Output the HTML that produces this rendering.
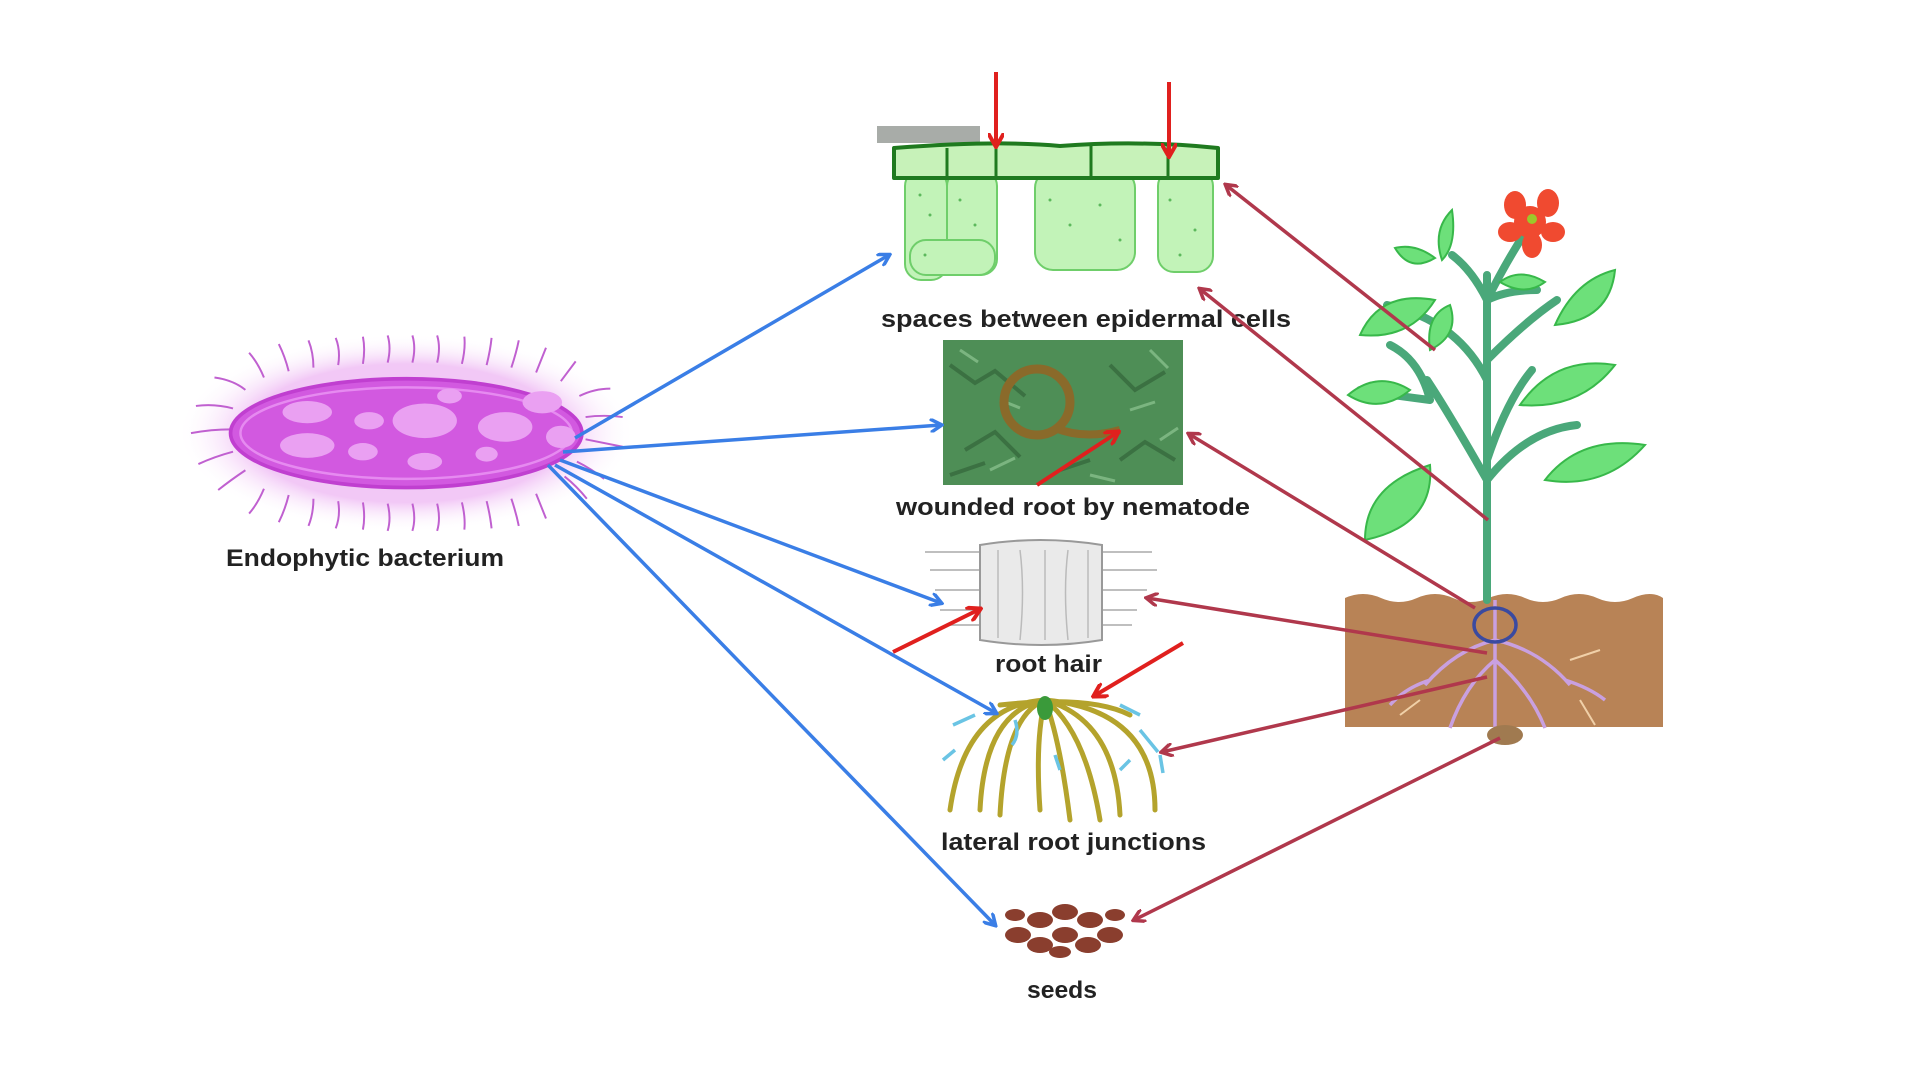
<!DOCTYPE html>
<html><head><meta charset="utf-8"><style>
html,body{margin:0;padding:0;background:#fff;}
svg{display:block}
text{font-family:"Liberation Sans",sans-serif;font-weight:bold;fill:#222}
</style></head><body>
<svg width="1920" height="1079" viewBox="0 0 1920 1079" xmlns="http://www.w3.org/2000/svg">
<defs>
<marker id="ab" markerWidth="14" markerHeight="14" refX="11" refY="7" orient="auto" markerUnits="userSpaceOnUse"><path d="M0,0 L12,7 L0,14" fill="none" stroke="#3a7ee6" stroke-width="3.5"/></marker>
<marker id="am" markerWidth="14" markerHeight="14" refX="11" refY="7" orient="auto" markerUnits="userSpaceOnUse"><path d="M0,0 L12,7 L0,14" fill="none" stroke="#b0384c" stroke-width="3.5"/></marker>
<marker id="ar" markerWidth="16" markerHeight="16" refX="13" refY="8" orient="auto" markerUnits="userSpaceOnUse"><path d="M0,0 L14,8 L0,16" fill="none" stroke="#e0201e" stroke-width="4"/></marker>
<radialGradient id="glow"><stop offset="0.7" stop-color="#f2c8f6"/><stop offset="1" stop-color="#fff" stop-opacity="0"/></radialGradient>
</defs>
<!-- bacterium -->
<g transform="translate(-2,-6) scale(1.237)">
<ellipse cx="330" cy="355" rx="185" ry="80" fill="url(#glow)"/>
<g stroke="#c060d0" stroke-width="1.6" fill="none">
<path d="M200 320 q-10-8 -25-10 M190 335 q-15-4 -30-2 M188 352 q-15 0 -32 3 M190 370 q-15 4 -28 10 M200 385 q-12 8 -22 16 M470 325 q12-6 25-6 M475 342 q15-2 30 0 M475 360 q15 3 30 6 M468 378 q12 6 22 14 M458 390 q10 8 18 18"/>
<path d="M215 310 q-5-12 -12-20 M235 305 q-3-12 -8-22 M255 302 q0-12 -4-22 M275 300 q2-12 -2-22 M295 299 q2-12 0-22 M315 298 q3-12 0-22 M335 298 q3-12 0-22 M355 298 q3-12 0-22 M375 299 q3-12 2-22 M395 300 q3-12 4-22 M415 302 q4-12 6-22 M435 306 q4-10 8-20 M455 313 q6-8 12-16"/>
<path d="M215 400 q-5 12 -12 20 M235 405 q-3 12 -8 22 M255 408 q0 12 -4 22 M275 410 q2 12 -2 22 M295 411 q2 12 0 22 M315 412 q3 12 0 22 M335 412 q3 12 0 22 M355 412 q3 12 0 22 M375 411 q3 12 2 22 M395 410 q3 12 4 22 M415 408 q4 12 6 22 M435 404 q4 10 8 20"/>
</g>
<ellipse cx="330" cy="355" rx="142" ry="44" fill="#d259e0" stroke="#c03fd0" stroke-width="3"/>
<ellipse cx="330" cy="355" rx="134" ry="37" fill="none" stroke="#e68af0" stroke-width="2"/>
<g fill="#eaa0f2">
<ellipse cx="250" cy="338" rx="20" ry="9"/><ellipse cx="300" cy="345" rx="12" ry="7"/><ellipse cx="345" cy="345" rx="26" ry="14"/><ellipse cx="410" cy="350" rx="22" ry="12"/><ellipse cx="440" cy="330" rx="16" ry="9"/><ellipse cx="250" cy="365" rx="22" ry="10"/><ellipse cx="295" cy="370" rx="12" ry="7"/><ellipse cx="345" cy="378" rx="14" ry="7"/><ellipse cx="395" cy="372" rx="9" ry="6"/><ellipse cx="455" cy="358" rx="12" ry="9"/><ellipse cx="365" cy="325" rx="10" ry="6"/>
</g>
</g>
<text x="226" y="566" font-size="24" textLength="278" lengthAdjust="spacingAndGlyphs">Endophytic bacterium</text>

<!-- epidermal cells (real coords) -->
<rect x="877" y="126" width="103" height="17" fill="#a8aca8"/>
<g fill="#c2f3b8" stroke="#6fce6a" stroke-width="2">
<rect x="905" y="170" width="42" height="110" rx="16"/><rect x="947" y="170" width="50" height="105" rx="16"/>
<rect x="910" y="240" width="85" height="35" rx="16"/>
<rect x="1035" y="170" width="100" height="100" rx="18"/>
<rect x="1158" y="170" width="55" height="102" rx="16"/>
</g>
<g fill="#5cb85c">
<circle cx="920" cy="195" r="1.5"/><circle cx="930" cy="215" r="1.5"/><circle cx="960" cy="200" r="1.5"/><circle cx="975" cy="225" r="1.5"/><circle cx="1050" cy="200" r="1.5"/><circle cx="1070" cy="225" r="1.5"/><circle cx="1100" cy="205" r="1.5"/><circle cx="1120" cy="240" r="1.5"/><circle cx="1170" cy="200" r="1.5"/><circle cx="1195" cy="230" r="1.5"/><circle cx="1180" cy="255" r="1.5"/><circle cx="925" cy="255" r="1.5"/>
</g>
<path d="M894 148 Q1000 140 1060 146 Q1140 140 1218 148 V178 H894Z" fill="#c7f2b9" stroke="#1f7a1f" stroke-width="4" stroke-linejoin="round"/>
<g stroke="#1f7a1f" stroke-width="3"><line x1="947" y1="148" x2="947" y2="178"/><line x1="996" y1="146" x2="996" y2="178"/><line x1="1091" y1="144" x2="1091" y2="180"/><line x1="1168" y1="146" x2="1168" y2="178"/></g>
<g stroke="#e0201e" stroke-width="4"><line x1="996" y1="72" x2="996" y2="146" marker-end="url(#ar)"/><line x1="1169" y1="82" x2="1169" y2="156" marker-end="url(#ar)"/></g>
<text x="881" y="327" font-size="24" textLength="410" lengthAdjust="spacingAndGlyphs">spaces  between epidermal cells</text>

<!-- nematode -->
<rect x="943" y="340" width="240" height="145" fill="#4e8e56"/>
<g stroke="#2e5e36" stroke-width="4" opacity="0.6" fill="none"><path d="M950 365 l25 18 l20-12 l30 25 M965 450 l30-18 l25 25 M1110 365 l25 25 l30-18 M1120 460 l25-18 l30 18 M950 475 l35-12 M1060 470 l30-10"/></g>
<g stroke="#a8dcaa" stroke-width="3" opacity="0.5" fill="none"><path d="M960 350 l18 12 M990 470 l25-12 M1150 350 l18 18 M1160 440 l18-12 M1090 475 l25 6 M1000 400 l20 8 M1130 410 l25-8"/></g>
<circle cx="1037" cy="402" r="33" fill="none" stroke="#8a6a2a" stroke-width="9"/>
<path d="M1055 428 q30 12 65 2" stroke="#8a6a2a" stroke-width="8" fill="none"/>
<line x1="1037" y1="485" x2="1118" y2="432" stroke="#e0201e" stroke-width="4" marker-end="url(#ar)"/>
<text x="896" y="515" font-size="24" textLength="354" lengthAdjust="spacingAndGlyphs">wounded root by nematode</text>

<!-- root hair -->
<g stroke="#aaa" stroke-width="1.5"><path d="M925 552 h55 M1102 552 h50 M930 570 h50 M1102 570 h55 M935 590 h45 M1102 590 h45 M940 610 h40 M1102 610 h35 M945 625 h35 M1102 625 h30"/></g>
<path d="M980 545 q60-10 122 0 v95 q-60 10 -122 0Z" fill="#eaeaea" stroke="#999" stroke-width="2"/>
<g stroke="#bbb" stroke-width="1.5" fill="none"><path d="M998 550 v88 M1020 550 q5 40 0 90 M1045 550 v90 M1068 550 q-5 40 0 90 M1088 550 v88"/></g>
<line x1="893" y1="652" x2="980" y2="609" stroke="#e0201e" stroke-width="4" marker-end="url(#ar)"/>
<text x="995" y="672" font-size="24" textLength="107" lengthAdjust="spacingAndGlyphs">root hair</text>

<!-- lateral roots -->
<g stroke="#b4a32c" stroke-width="5" fill="none" stroke-linecap="round">
<path d="M1045 700 q-80 5 -95 110 M1045 700 q-60 10 -65 110 M1045 700 q-40 15 -45 115 M1045 700 q-10 40 -5 110 M1045 700 q15 40 25 120 M1045 700 q40 30 55 120 M1045 700 q70 20 75 115 M1045 700 q110 10 110 110 M1000 705 q90 -10 130 10"/>
</g>
<g stroke="#6ac4e4" stroke-width="3.5" fill="none"><path d="M975 715 l-22 10 M955 750 l-12 10 M1015 720 q5 15 -3 25 M1055 755 l5 15 M1120 705 l20 10 M1140 730 l18 22 M1130 760 l-10 10 M1160 755 l3 18"/></g>
<ellipse cx="1045" cy="708" rx="8" ry="12" fill="#3a9a3a"/>
<line x1="1183" y1="643" x2="1094" y2="696" stroke="#e0201e" stroke-width="4" marker-end="url(#ar)"/>
<text x="941" y="850" font-size="24" textLength="265" lengthAdjust="spacingAndGlyphs">lateral root junctions</text>

<!-- seeds -->
<g fill="#8a3e2e">
<ellipse cx="1018" cy="935" rx="13" ry="8"/><ellipse cx="1040" cy="920" rx="13" ry="8"/><ellipse cx="1065" cy="912" rx="13" ry="8"/><ellipse cx="1090" cy="920" rx="13" ry="8"/><ellipse cx="1110" cy="935" rx="13" ry="8"/><ellipse cx="1040" cy="945" rx="13" ry="8"/><ellipse cx="1065" cy="935" rx="13" ry="8"/><ellipse cx="1088" cy="945" rx="13" ry="8"/><ellipse cx="1060" cy="952" rx="11" ry="6"/><ellipse cx="1115" cy="915" rx="10" ry="6"/><ellipse cx="1015" cy="915" rx="10" ry="6"/>
</g>
<text x="1027" y="998" font-size="24" textLength="70" lengthAdjust="spacingAndGlyphs">seeds</text>

<!-- blue arrows -->
<g stroke="#3a7ee6" stroke-width="3.5" fill="none">
<line x1="575" y1="438" x2="889" y2="255" marker-end="url(#ab)"/>
<line x1="563" y1="452" x2="941" y2="425" marker-end="url(#ab)"/>
<line x1="560" y1="460" x2="941" y2="603" marker-end="url(#ab)"/>
<line x1="555" y1="465" x2="996" y2="713" marker-end="url(#ab)"/>
<line x1="548" y1="465" x2="995" y2="925" marker-end="url(#ab)"/>
</g>

<!-- plant -->
<path d="M1345 598 q18-8 36 0 t36 0 t36 0 t36 0 t36 0 t36 0 t36 0 t36 0 t30 0 V727 H1345Z" fill="#b88356"/>
<g stroke="#c9a0e0" stroke-width="3.5" fill="none">
<path d="M1495 600 V728 M1495 640 q-40 10 -70 45 M1495 640 q45 10 75 45 M1495 660 q-30 25 -45 68 M1495 660 q35 30 50 68 M1430 680 q-25 8 -40 25 M1565 680 q25 8 40 20"/>
</g>
<g stroke="#f0d0a8" stroke-width="2" fill="none"><path d="M1420 700 l-20 15 M1570 660 l30 -10 M1580 700 l15 25"/></g>
<ellipse cx="1505" cy="735" rx="18" ry="10" fill="#a07a50"/>
<g stroke="#4aa87a" stroke-width="8" fill="none" stroke-linecap="round">
<path d="M1487 600 V275 M1487 300 q20-40 40-70 M1487 300 q-15-30 -35-45 M1487 300 q20-10 50 -10 M1487 380 q-30-60 -100-75 M1487 480 q-40-70 -60-100 M1430 400 q-10-40 -40-55 M1430 400 q-40 -5 -70-10 M1487 360 q40-40 70-60 M1487 460 q20-60 45-90 M1487 480 q40-50 90-55"/>
</g>
<g fill="#6de07a" stroke="#38b84a" stroke-width="2">
<path d="M1360 335 q20-45 75-35 q-25 40 -75 35Z"/>
<path d="M1435 258 q-20-15 -40-10 q15 25 40 10Z"/>
<path d="M1430 350 q-5-35 20-45 q10 30 -20 45Z"/>
<path d="M1348 395 q30-25 62-5 q-30 25 -62 5Z"/>
<path d="M1365 540 q0-55 65-75 q5 60 -65 75Z"/>
<path d="M1555 325 q20-45 60-55 q-5 50 -60 55Z"/>
<path d="M1520 405 q35-50 95-40 q-35 45 -95 40Z"/>
<path d="M1545 480 q35-45 100-35 q-40 45 -100 35Z"/>
<path d="M1500 282 q20-15 45 0 q-20 15 -45 0Z"/>
<path d="M1452 210 q5 35 -10 50 q-10-30 10-50Z"/>
</g>
<g fill="#f04a30"><circle cx="1530" cy="222" r="16"/><ellipse cx="1515" cy="205" rx="11" ry="14"/><ellipse cx="1548" cy="203" rx="11" ry="14"/><ellipse cx="1553" cy="232" rx="12" ry="10"/><ellipse cx="1510" cy="232" rx="12" ry="10"/><ellipse cx="1532" cy="245" rx="10" ry="13"/></g>
<circle cx="1532" cy="219" r="5" fill="#9cc82a"/>
<ellipse cx="1495" cy="625" rx="21" ry="17" fill="none" stroke="#3a4aa0" stroke-width="3.5"/>

<!-- maroon arrows -->
<g stroke="#b0384c" stroke-width="3.5" fill="none">
<line x1="1435" y1="350" x2="1226" y2="185" marker-end="url(#am)"/>
<line x1="1488" y1="520" x2="1200" y2="289" marker-end="url(#am)"/>
<line x1="1475" y1="608" x2="1189" y2="434" marker-end="url(#am)"/>
<line x1="1487" y1="653" x2="1147" y2="598" marker-end="url(#am)"/>
<line x1="1487" y1="677" x2="1162" y2="752" marker-end="url(#am)"/>
<line x1="1500" y1="738" x2="1134" y2="920" marker-end="url(#am)"/>
</g>
</svg>
</body></html>
